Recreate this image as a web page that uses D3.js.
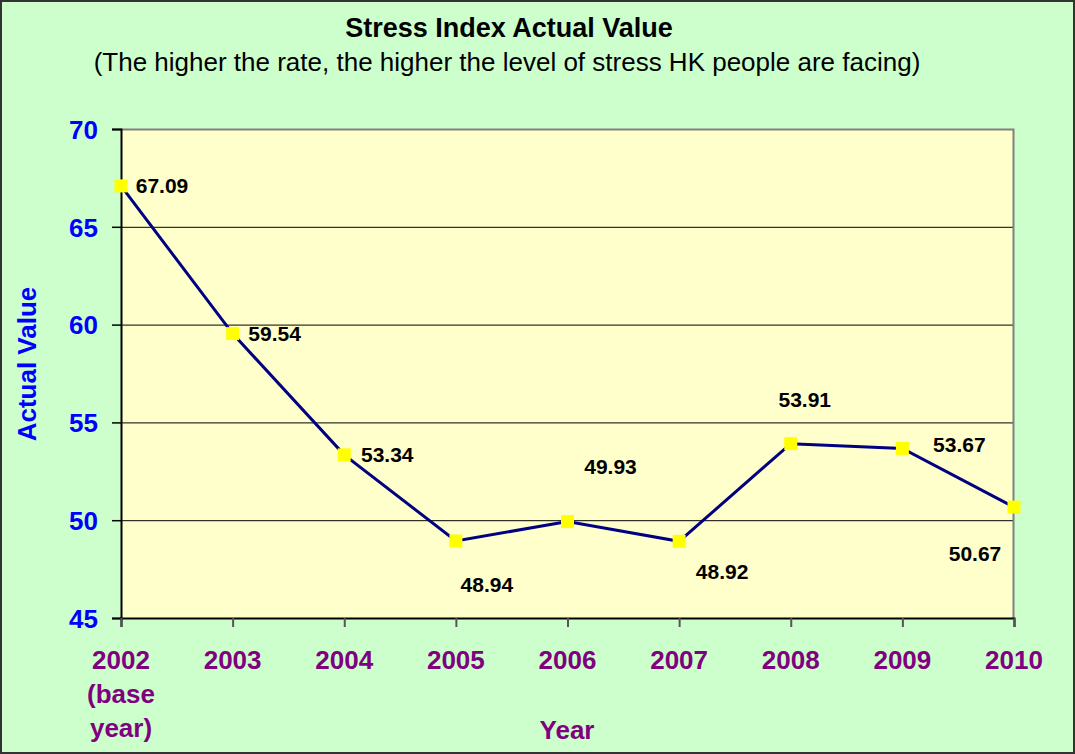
<!DOCTYPE html>
<html>
<head>
<meta charset="utf-8">
<script src="https://cdn.jsdelivr.net/npm/d3@7"></script>
<style>
  body { margin: 0; background: #ffffff; }
  svg text { font-family: "Liberation Sans", Arial, sans-serif; }
</style>
</head>
<body>
<svg id="chart" width="1075" height="754"></svg>
<script>
// chart data
var years = ['2002', '2003', '2004', '2005', '2006', '2007', '2008', '2009', '2010'];
var yearLabels = [['2002', '(base', 'year)'], ['2003'], ['2004'], ['2005'], ['2006'], ['2007'], ['2008'], ['2009'], ['2010']];
var values = [67.09, 59.54, 53.34, 48.94, 49.93, 48.92, 53.91, 53.67, 50.67];
var yTicks = [45, 50, 55, 60, 65, 70];

// where each data label's centre sits relative to its point (dx, dy)
var labelPos = [
  [41, 0], [42, 0], [43, 0],
  [31, 44], [43, -55], [43, 30],
  [14, -44], [57, -4], [-39, 46]
];

var svg = d3.select('#chart');
var W = 1075, H = 754;
var margin = {top: 129, right: 61, bottom: 136, left: 121};
var width = W - margin.left - margin.right,
    height = H - margin.top - margin.bottom;

// background + border
svg.append('rect')
  .attr('x', 1).attr('y', 1)
  .attr('width', W - 2).attr('height', H - 2)
  .style('fill', '#ccffcc')
  .style('stroke', '#333333')
  .style('stroke-width', 2);

svg.append('text')
  .text('Stress Index Actual Value')
  .attr('x', 509).attr('y', 37)
  .attr('text-anchor', 'middle')
  .style('font-size', '27px').style('font-weight', 'bold');

svg.append('text')
  .text('(The higher the rate, the higher the level of stress HK people are facing)')
  .attr('x', 507).attr('y', 71)
  .attr('text-anchor', 'middle')
  .style('font-size', '26px');

var g = svg.append('g')
  .attr('transform', 'translate(' + margin.left + ',' + margin.top + ')');

var xScale = d3.scalePoint()
  .domain(years)
  .range([0, width]);

var yScale = d3.scaleLinear()
  .domain([45, 70])
  .range([height, 0]);

// plot area
g.append('rect')
  .attr('width', width).attr('height', height)
  .style('fill', '#ffffcc');

// gridlines
g.selectAll('.grid')
  .data(yTicks.slice(1, -1))
  .enter().append('line')
  .attr('x1', 0).attr('x2', width)
  .attr('y1', function(d) { return yScale(d) + 0.5; })
  .attr('y2', function(d) { return yScale(d) + 0.5; })
  .style('stroke', '#000000').style('stroke-width', 1);

// grey top/right border of plot area
g.append('path')
  .attr('d', 'M0,0.5H' + (width - 0.5) + 'V' + height)
  .style('fill', 'none').style('stroke', '#808080').style('stroke-width', 2);

// y axis
var yAxis = g.append('g')
  .call(d3.axisLeft(yScale).tickValues(yTicks).tickSize(9).tickPadding(14));
yAxis.select('.domain').style('stroke', '#000000').style('stroke-width', 2);
yAxis.selectAll('.tick line').style('stroke', '#000000').style('stroke-width', 1.5);
yAxis.selectAll('.tick text')
  .style('font-size', '26px').style('font-weight', 'bold')
  .style('fill', '#0000ff')
  .attr('dy', '0.36em');

// x axis
var xAxis = g.append('g')
  .attr('transform', 'translate(0,' + height + ')')
  .call(d3.axisBottom(xScale).tickSize(9).tickFormat(''));
xAxis.select('.domain').style('stroke', '#000000').style('stroke-width', 2);
xAxis.selectAll('.tick line').style('stroke', '#555555').style('stroke-width', 2);

g.selectAll('.xlab')
  .data(years)
  .enter().append('text')
  .attr('class', 'xlab')
  .attr('text-anchor', 'middle')
  .style('font-size', '26px').style('font-weight', 'bold')
  .style('fill', '#800080')
  .each(function(d, i) {
    var t = d3.select(this);
    yearLabels[i].forEach(function(line, j) {
      t.append('tspan')
        .attr('x', xScale(d))
        .attr('y', height + 51 + j * 34)
        .text(line);
    });
  });

// axis titles
svg.append('text')
  .text('Actual Value')
  .attr('transform', 'translate(36,364) rotate(-90)')
  .attr('text-anchor', 'middle')
  .style('font-size', '26px').style('font-weight', 'bold')
  .style('fill', '#0000ff');

svg.append('text')
  .text('Year')
  .attr('x', 567).attr('y', 739)
  .attr('text-anchor', 'middle')
  .style('font-size', '26px').style('font-weight', 'bold')
  .style('fill', '#800080');

// line
var line = d3.line()
  .x(function(d, i) { return xScale(years[i]); })
  .y(function(d) { return yScale(d); });

g.append('path')
  .datum(values)
  .attr('d', line)
  .style('fill', 'none')
  .style('stroke', '#000080')
  .style('stroke-width', 3);

// markers
g.selectAll('.dot')
  .data(values)
  .enter().append('rect')
  .attr('x', function(d, i) { return xScale(years[i]) - 6.5; })
  .attr('y', function(d) { return yScale(d) - 6.5; })
  .attr('width', 13).attr('height', 13)
  .style('fill', '#ffff00');

// data labels
g.selectAll('.lbl')
  .data(values)
  .enter().append('text')
  .text(function(d) { return d.toFixed(2); })
  .attr('x', function(d, i) { return xScale(years[i]) + labelPos[i][0]; })
  .attr('y', function(d, i) { return yScale(d) + labelPos[i][1]; })
  .attr('dy', '0.36em')
  .attr('text-anchor', 'middle')
  .style('font-size', '21px').style('font-weight', 'bold')
  .style('fill', '#000000');
</script>
</body>
</html>
